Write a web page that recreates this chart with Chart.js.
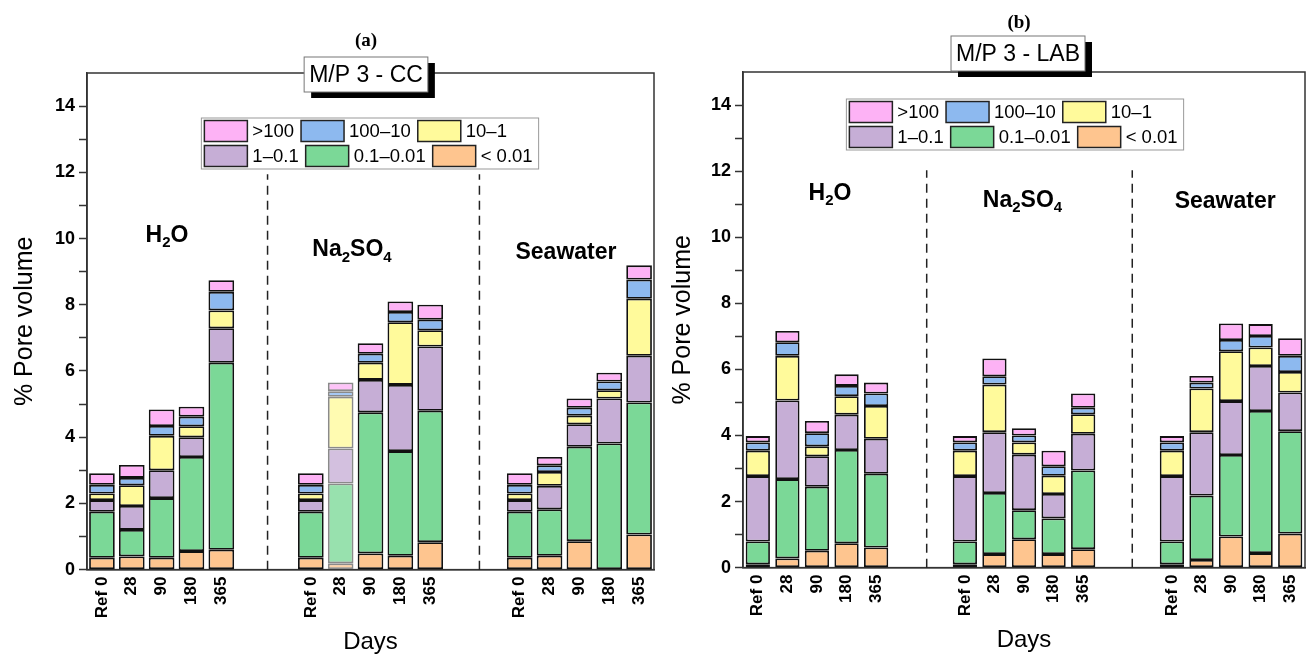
<!DOCTYPE html>
<html>
<head>
<meta charset="utf-8">
<script src="https://cdn.jsdelivr.net/npm/chart.js@4.4.0/dist/chart.umd.min.js"></script>
<style>
  body { margin: 0; background: #fff; }
  #wrap { position: relative; width: 1309px; height: 655px; }
  .panel { position: absolute; top: 0; height: 655px; }
</style>
</head>
<body>
<div id="wrap">
  <div class="panel" style="left:0;width:660px"><canvas id="chartCC" width="660" height="655"></canvas></div>
  <div class="panel" style="left:660px;width:649px"><canvas id="chartLAB" width="649" height="655"></canvas></div>
</div>
<script>
// x categories: 3 groups of 5 ages, two empty slots between groups
const dayLabels = ['Ref 0', '28', '90', '180', '365', '', '',
                   'Ref 0', '28', '90', '180', '365', '', '',
                   'Ref 0', '28', '90', '180', '365'];
const groupLabels = ['H_{2}O', 'Na_{2}SO_{4}', 'Seawater'];

// pore size classes, bottom of the stack first
const sizeClasses = ['< 0.01', '0.1–0.01', '1–0.1', '10–1', '100–10', '>100'];
const classColors = ['#FEC58F', '#7BD897', '#C6AED6', '#FFFA9B', '#8DB9EF', '#FDB2F5'];

const n = null;
// M/P 3 - CC
const cc_lt001   = [0.36, 0.40, 0.36, 0.56, 0.60, n, n, 0.36, 0.19, 0.49, 0.42, 0.83, n, n, 0.36, 0.42, 0.86, 0.00, 1.06];
const cc_01_001  = [1.39, 0.80, 1.80, 2.84, 5.65, n, n, 1.39, 2.41, 4.26, 3.16, 3.97, n, n, 1.39, 1.40, 2.85, 3.81, 3.99];
const cc_1_01    = [0.35, 0.72, 0.84, 0.60, 1.04, n, n, 0.35, 1.06, 0.98, 2.00, 1.94, n, n, 0.35, 0.71, 0.68, 1.36, 1.41];
const cc_10_1    = [0.20, 0.63, 1.04, 0.33, 0.54, n, n, 0.20, 1.56, 0.52, 1.89, 0.49, n, n, 0.20, 0.42, 0.26, 0.25, 1.72];
const cc_100_10  = [0.26, 0.22, 0.30, 0.29, 0.56, n, n, 0.26, 0.17, 0.27, 0.31, 0.32, n, n, 0.26, 0.20, 0.24, 0.26, 0.58];
const cc_gt100   = [0.35, 0.39, 0.50, 0.30, 0.35, n, n, 0.35, 0.26, 0.32, 0.32, 0.45, n, n, 0.35, 0.25, 0.28, 0.27, 0.43];

// M/P 3 - LAB
const lab_lt001  = [0.10, 0.28, 0.51, 0.74, 0.61, n, n, 0.10, 0.41, 0.86, 0.41, 0.56, n, n, 0.10, 0.23, 0.94, 0.44, 1.03];
const lab_01_001 = [0.69, 2.40, 1.94, 2.82, 2.23, n, n, 0.69, 1.85, 0.88, 1.08, 2.38, n, n, 0.69, 1.95, 2.47, 4.30, 3.10];
const lab_1_01   = [1.98, 2.38, 0.92, 1.07, 1.06, n, n, 1.98, 1.84, 1.68, 0.74, 1.11, n, n, 1.98, 1.92, 1.63, 1.36, 1.17];
const lab_10_1   = [0.77, 1.35, 0.30, 0.56, 0.99, n, n, 0.77, 1.44, 0.37, 0.55, 0.59, n, n, 0.77, 1.32, 1.51, 0.56, 0.62];
const lab_100_10 = [0.25, 0.41, 0.40, 0.31, 0.38, n, n, 0.25, 0.25, 0.21, 0.29, 0.20, n, n, 0.25, 0.18, 0.34, 0.35, 0.49];
const lab_gt100  = [0.19, 0.34, 0.37, 0.35, 0.33, n, n, 0.19, 0.54, 0.22, 0.47, 0.43, n, n, 0.19, 0.20, 0.50, 0.36, 0.53];

const FONT = "'Liberation Sans', Arial, sans-serif";
Chart.defaults.font.family = FONT;
Chart.defaults.color = '#000';

function fade(hex) {
    const r = parseInt(hex.slice(1, 3), 16), g = parseInt(hex.slice(3, 5), 16), b = parseInt(hex.slice(5, 7), 16);
    return `rgba(${r},${g},${b},0.78)`;
}

// draws text like "Na_{2}SO_{4}" with subscripts, centred on cx
function drawRich(ctx, text, cx, cy) {
    const parts = text.split(/(_\{[^}]*\})/).filter(p => p !== '');
    const mainFont = 'bold 23px ' + FONT, subFont = 'bold 15px ' + FONT;
    let total = 0;
    const items = parts.map(p => {
        const sub = p.startsWith('_{');
        const t = sub ? p.slice(2, -1) : p;
        ctx.font = sub ? subFont : mainFont;
        const w = ctx.measureText(t).width;
        total += w;
        return { t, sub, w };
    });
    let x = cx - total / 2;
    ctx.textAlign = 'left';
    ctx.textBaseline = 'middle';
    ctx.fillStyle = '#000';
    items.forEach(it => {
        ctx.font = it.sub ? subFont : mainFont;
        ctx.fillText(it.t, x, it.sub ? cy + 8 : cy);
        x += it.w;
    });
}

function makeDecor(cfg) {
    return {
        id: 'decor',
        beforeDatasetsDraw(chart) {
            const { ctx, chartArea: a, scales: { x, y } } = chart;
            ctx.save();
            // frame round the plot
            ctx.strokeStyle = '#333';
            ctx.lineWidth = 1.5;
            ctx.strokeRect(a.left, a.top, a.right - a.left, a.bottom - a.top);
            // dashed group separators
            ctx.setLineDash([9, 6]);
            ctx.strokeStyle = '#222';
            cfg.dividers.forEach(s => {
                const px = x.getPixelForValue(s);
                ctx.beginPath();
                ctx.moveTo(px, y.getPixelForValue(0));
                ctx.lineTo(px, y.getPixelForValue(cfg.dividerTop));
                ctx.stroke();
            });
            ctx.setLineDash([]);
            groupLabels.forEach((g, i) => {
                drawRich(ctx, g, x.getPixelForValue(cfg.groupPos[i][0]), y.getPixelForValue(cfg.groupPos[i][1]));
            });
            ctx.restore();
        },
        afterDraw(chart) {
            const ctx = chart.ctx;
            ctx.save();
            // legend box, two rows of three
            const ds = chart.data.datasets.slice().reverse();
            const rows = [ds.slice(0, 3), ds.slice(3)];
            ctx.font = '18.5px ' + FONT;
            const sw = 43, sh = 21;
            const rowW = rows.map(r => r.reduce((w, d) => w + sw + 5 + ctx.measureText(d.label).width, 0) + 7 * (r.length - 1));
            const bw = Math.max(...rowW) + 9, bh = 51;
            const bx = cfg.legend.cx - bw / 2, by = cfg.legend.top;
            ctx.fillStyle = '#fff';
            ctx.fillRect(bx, by, bw, bh);
            ctx.strokeStyle = '#999';
            ctx.lineWidth = 1;
            ctx.strokeRect(bx, by, bw, bh);
            rows.forEach((r, ri) => {
                let xx = bx + 3;
                const cy = by + 13 + ri * 25;
                r.forEach(d => {
                    ctx.fillStyle = d.swatch;
                    ctx.fillRect(xx, cy - sh / 2, sw, sh);
                    ctx.strokeStyle = '#222';
                    ctx.lineWidth = 1.5;
                    ctx.strokeRect(xx, cy - sh / 2, sw, sh);
                    ctx.fillStyle = '#000';
                    ctx.textAlign = 'left';
                    ctx.textBaseline = 'middle';
                    ctx.fillText(d.label, xx + sw + 5, cy + 1);
                    xx += sw + 5 + ctx.measureText(d.label).width + 7;
                });
            });
            // title box with drop shadow
            ctx.font = '23px ' + FONT;
            const tw = ctx.measureText(cfg.title.text).width + 10, th = 35;
            const tx = cfg.title.cx - tw / 2, ty = cfg.title.top;
            ctx.fillStyle = '#000';
            ctx.fillRect(tx + 7, ty + 6, tw, th);
            ctx.fillStyle = '#fff';
            ctx.fillRect(tx, ty, tw, th);
            ctx.strokeStyle = '#777';
            ctx.lineWidth = 1;
            ctx.strokeRect(tx, ty, tw, th);
            ctx.fillStyle = '#000';
            ctx.textAlign = 'center';
            ctx.textBaseline = 'middle';
            ctx.fillText(cfg.title.text, cfg.title.cx, ty + th / 2 + 1);
            // panel tag
            ctx.font = "bold 19px 'Liberation Serif', 'Times New Roman', serif";
            ctx.fillText(cfg.tag.text, cfg.tag.cx, cfg.tag.cy);
            ctx.restore();
        }
    };
}

function makeChart(id, series, cfg) {
    return new Chart(document.getElementById(id), {
        type: 'bar',
        data: {
            labels: dayLabels,
            datasets: series.map((d, i) => ({
                label: sizeClasses[i],
                data: d,
                swatch: classColors[i],
                backgroundColor: c => c.dataIndex === cfg.fadedIndex ? fade(classColors[i]) : classColors[i],
                borderColor: c => c.dataIndex === cfg.fadedIndex ? '#8a8a8a' : '#111',
                borderWidth: 1.8,
                borderSkipped: false,
                barPercentage: cfg.barPct,
                categoryPercentage: 1
            }))
        },
        options: {
            responsive: false,
            animation: false,
            layout: { padding: cfg.padding },
            plugins: { legend: { display: false }, tooltip: { enabled: false } },
            scales: {
                x: {
                    stacked: true,
                    // the rotated end labels must not push the plot edges in
                    afterFit: ax => { ax.paddingLeft = 0; ax.paddingRight = 0; },
                    grid: { display: true, drawOnChartArea: false, drawTicks: false },
                    border: { color: '#333', width: 1.5 },
                    ticks: { autoSkip: false, minRotation: 90, maxRotation: 90, padding: 7, color: '#000',
                             font: { size: 17, weight: 'bold' } },
                    title: { display: true, text: 'Days', color: '#000', font: { size: 24 }, padding: { top: 3, bottom: 0 } }
                },
                y: {
                    stacked: true,
                    min: 0,
                    max: 15,
                    afterBuildTicks: ax => { ax.ticks = ax.ticks.filter(t => t.value <= 14); },
                    ticks: { stepSize: 1, padding: 4, color: '#000', font: { size: 18, weight: 'bold' },
                             callback: v => (v % 2 === 0 ? v : '') },
                    grid: { drawOnChartArea: false, tickLength: 8, tickColor: '#333', tickWidth: 1.5 },
                    border: { color: '#333', width: 1.5 },
                    title: { display: true, text: '% Pore volume', color: '#000', font: { size: 25 }, padding: cfg.yTitlePad }
                }
            }
        },
        plugins: [makeDecor(cfg)]
    });
}

makeChart('chartCC', [cc_lt001, cc_01_001, cc_1_01, cc_10_1, cc_100_10, cc_gt100], {
    padding: { top: 73, right: 6, left: 6, bottom: -2 },
    yTitlePad: { top: 4, bottom: 11 },
    barPct: 0.86,
    fadedIndex: 8,
    dividers: [5.55, 12.65],
    dividerTop: 11.94,
    groupPos: [[2.18, 10.1], [8.38, 9.67], [15.55, 9.58]],
    legend: { cx: 370, top: 118 },
    title: { text: 'M/P 3 - CC', cx: 366, top: 57 },
    tag: { text: '(a)', cx: 366, cy: 41 }
});

makeChart('chartLAB', [lab_lt001, lab_01_001, lab_1_01, lab_10_1, lab_100_10, lab_gt100], {
    padding: { top: 72, right: 4, left: 1, bottom: 0 },
    yTitlePad: { top: 7, bottom: 9 },
    barPct: 0.82,
    fadedIndex: null,
    dividers: [5.71, 12.66],
    dividerTop: 12.03,
    groupPos: [[2.44, 11.33], [8.95, 11.12], [15.8, 11.09]],
    legend: { cx: 355, top: 99 },
    title: { text: 'M/P 3 - LAB', cx: 358, top: 36 },
    tag: { text: '(b)', cx: 359, cy: 23 }
});
</script>
</body>
</html>
